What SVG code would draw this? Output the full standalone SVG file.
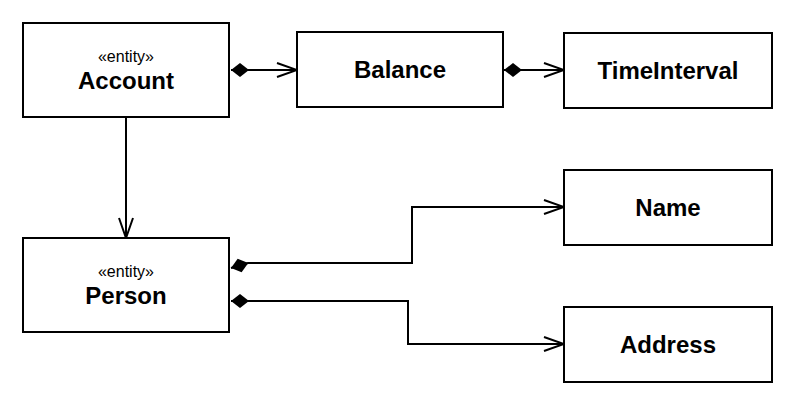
<svg xmlns="http://www.w3.org/2000/svg" width="793" height="404" viewBox="0 0 793 404">
  <style>
    .box { fill: #ffffff; stroke: #000000; stroke-width: 2; }
    .stereo { font-family: "Liberation Sans", Arial, sans-serif; font-size: 16px; text-anchor: middle; fill: #000; }
    .name { font-family: "Liberation Sans", Arial, sans-serif; font-size: 24px; font-weight: bold; text-anchor: middle; fill: #000; }
    .conn { fill: none; stroke: #000000; stroke-width: 2; }
  </style>
  <defs>
    <marker id="arrow" markerUnits="userSpaceOnUse" markerWidth="24" markerHeight="18" viewBox="-22 -9 24 18" refX="0" refY="0" orient="auto">
      <path d="M -20 -7 L 0 0 L -20 7" fill="none" stroke="#000" stroke-width="2"/>
    </marker>
    <marker id="diamond" markerUnits="userSpaceOnUse" markerWidth="22" markerHeight="18" viewBox="-2 -9 22 18" refX="0" refY="0" orient="auto">
      <path d="M 0 0 L 9 -7 L 18 0 L 9 7 Z" fill="#000" stroke="none"/>
    </marker>
  </defs>

  <g id="connectors">
    <path class="conn" d="M 231 70 H 297" marker-start="url(#diamond)" marker-end="url(#arrow)"/>
    <path class="conn" d="M 504 70 H 564" marker-start="url(#diamond)" marker-end="url(#arrow)"/>
    <path class="conn" d="M 126 117 V 238" marker-end="url(#arrow)"/>
    <path class="conn" d="M 231 268 L 248 263 H 412 V 207 H 564" marker-start="url(#diamond)" marker-end="url(#arrow)"/>
    <path class="conn" d="M 231 301 H 408 V 344 H 564" marker-start="url(#diamond)" marker-end="url(#arrow)"/>
  </g>

  <g id="account">
    <rect class="box" x="23" y="23" width="206" height="94"/>
    <text class="stereo" x="126" y="62">«entity»</text>
    <text class="name" x="126" y="89">Account</text>
  </g>
  <g id="balance">
    <rect class="box" x="297" y="32" width="206" height="75"/>
    <text class="name" x="400" y="78">Balance</text>
  </g>
  <g id="timeinterval">
    <rect class="box" x="564" y="33" width="208" height="75"/>
    <text class="name" x="668" y="79">TimeInterval</text>
  </g>
  <g id="person">
    <rect class="box" x="23" y="238" width="206" height="94"/>
    <text class="stereo" x="126" y="277">«entity»</text>
    <text class="name" x="126" y="304">Person</text>
  </g>
  <g id="name">
    <rect class="box" x="564" y="170" width="208" height="75"/>
    <text class="name" x="668" y="216">Name</text>
  </g>
  <g id="address">
    <rect class="box" x="564" y="307" width="208" height="75"/>
    <text class="name" x="668" y="353">Address</text>
  </g>
</svg>
